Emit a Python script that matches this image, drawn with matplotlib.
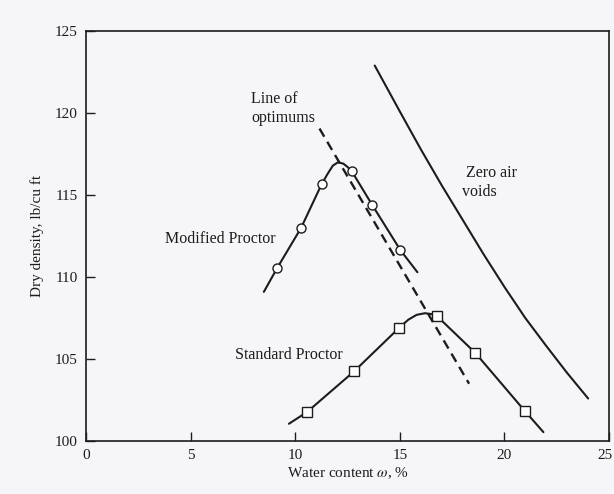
import matplotlib
matplotlib.use("Agg")
import matplotlib.pyplot as plt
import matplotlib.transforms as mtransforms

plt.rcParams["font.family"] = ["Liberation Serif", "DejaVu Serif"]
plt.rcParams["mathtext.fontset"] = "stix"

# Modified Proctor: curve trace and test points
mod_curve_w = [8.5, 9.14, 10.28, 11.26, 11.55, 11.8, 12.04, 12.3, 12.5, 12.70, 13.67, 15.03, 15.84]
mod_curve_d = [109.1, 110.56, 113.0, 115.66, 116.3, 116.8, 117.0, 116.92, 116.72, 116.46, 114.42, 111.64, 110.3]
mod_pts_w = [9.14, 10.28, 11.26, 12.70, 13.67, 15.03]
mod_pts_d = [110.56, 113.0, 115.66, 116.46, 114.42, 111.64]

# Standard Proctor: curve trace and test points
std_curve_w = [9.7, 10.56, 12.81, 14.96, 15.4, 15.8, 16.2, 16.5, 16.77, 18.6, 20.98, 21.86]
std_curve_d = [101.06, 101.77, 104.25, 106.9, 107.4, 107.7, 107.8, 107.75, 107.63, 105.39, 101.83, 100.55]
std_pts_w = [10.56, 12.81, 14.96, 16.77, 18.6, 20.98]
std_pts_d = [101.77, 104.25, 106.9, 107.63, 105.39, 101.83]

# line of optimums (dashed) and zero air voids curve
opt_w = [11.16, 18.31]
opt_d = [119.06, 103.5]
zav_w = [13.8, 15.0, 16.0, 17.0, 18.0, 19.0, 20.0, 21.0, 22.0, 23.0, 24.0]
zav_d = [122.9, 120.1, 117.8, 115.6, 113.5, 111.4, 109.4, 107.5, 105.8, 104.15, 102.6]

ink = "#1c1c1c"
bg = "#f6f6f8"

fig = plt.figure(figsize=(6.14, 4.94), dpi=100, facecolor=bg)
ax = fig.add_axes([0.140, 0.107, 0.852, 0.830], facecolor=bg)

line_kw = dict(color=ink, lw=1.5, solid_joinstyle="round", solid_capstyle="round")
ax.plot(mod_curve_w, mod_curve_d, **line_kw)
ax.plot(mod_pts_w, mod_pts_d, ls="none", marker="o", ms=6.5, mfc="white", mec=ink, mew=1.0)
ax.plot(std_curve_w, std_curve_d, **line_kw)
ax.plot(std_pts_w, std_pts_d, ls="none", marker="s", ms=7.5, mfc="white", mec=ink, mew=1.0)
ax.plot(opt_w, opt_d, color=ink, lw=1.7, ls=(0, (4, 2.5)))
ax.plot(zav_w, zav_d, **line_kw)

fs = 11.5
ax.text(7.9, 120.3, "Line of\noptimums", fontsize=fs, ha="left", va="center", linespacing=1.25, color=ink)
ax.text(3.78, 112.3, "Modified Proctor", fontsize=fs, ha="left", va="center", color=ink)
ax.text(7.14, 105.25, "Standard Proctor", fontsize=fs, ha="left", va="center", color=ink)
ax.text(17.95, 115.8, " Zero air\nvoids", fontsize=fs, ha="left", va="center", linespacing=1.25, color=ink)

ax.set_xlim(0, 25)
ax.set_ylim(100, 125)
ax.set_xticks([0, 5, 10, 15, 20, 25])
ax.set_yticks([100, 105, 110, 115, 120, 125])
ax.tick_params(direction="in", length=6.5, width=1.0, labelsize=11, colors=ink, pad=6)
for s in ax.spines.values():
    s.set_linewidth(1.2)
    s.set_color(ink)

# nudge the last x label so it stays inside the figure edge
last = ax.get_xticklabels()[-1]
last.set_transform(last.get_transform() + mtransforms.ScaledTranslation(-4 / 100, 0, fig.dpi_scale_trans))

ax.set_xlabel(r"Water content $\omega$, %", fontsize=11, color=ink, labelpad=2)
ax.set_ylabel("Dry density, lb/cu ft", fontsize=11, color=ink, labelpad=8)

fig.savefig("out.png", dpi=100, facecolor=bg)
